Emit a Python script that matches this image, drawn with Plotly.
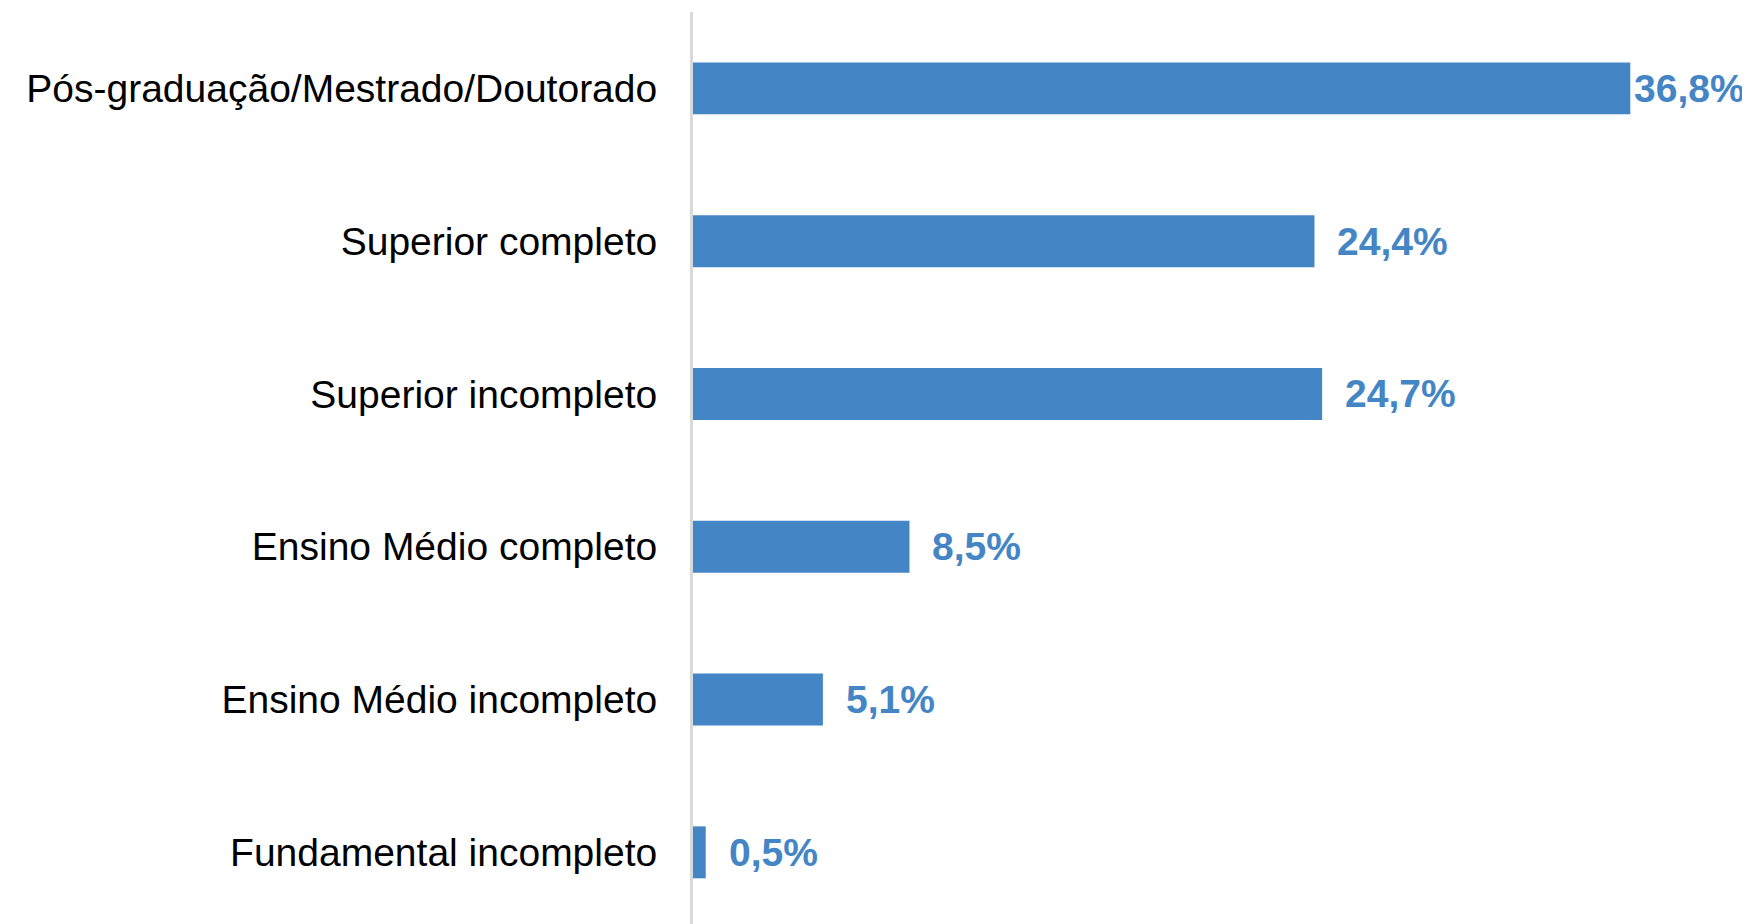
import plotly.graph_objects as go

categories = [
    "Pós-graduação/Mestrado/Doutorado",
    "Superior completo",
    "Superior incompleto",
    "Ensino Médio completo",
    "Ensino Médio incompleto",
    "Fundamental incompleto",
]
values = [36.8, 24.4, 24.7, 8.5, 5.1, 0.5]
labels = ["36,8%", "24,4%", "24,7%", "8,5%", "5,1%", "0,5%"]

BAR_COLOR = "#4485C5"
# page body has an 8px default margin
W, H = 1742, 916
LEFT = 685
XMAX = 41.5

fig = go.Figure()
fig.add_trace(go.Bar(
    x=values, y=categories, orientation="h",
    marker=dict(color=BAR_COLOR, line=dict(width=0)),
    width=0.34, hoverinfo="skip",
))

px_per_unit = (W - LEFT) / XMAX
label_w = 122
for v, lab, cat in zip(values, labels, categories):
    room = (XMAX - v) * px_per_unit - label_w
    shift = max(3, min(22, room))
    fig.add_annotation(
        x=v, y=cat, text="<b>" + lab + "</b>", showarrow=False,
        xanchor="left", yanchor="middle", xshift=shift, borderpad=0,
        font=dict(family="Liberation Sans, Arial", size=39, color=BAR_COLOR),
    )

fig.update_layout(
    width=W, height=H,
    margin=dict(l=LEFT, r=0, t=4, b=0),
    plot_bgcolor="white", paper_bgcolor="white",
    showlegend=False,
    bargap=0.66,
    xaxis=dict(range=[0, XMAX], visible=False, fixedrange=True),
    yaxis=dict(
        range=[5.469, -0.5], showline=True, linecolor="#D9D9D9", linewidth=3,
        showgrid=False, zeroline=False, ticks="", ticklabelstandoff=25,
        tickfont=dict(family="Liberation Sans, Arial", size=39, color="black"),
    ),
)

fig.write_html("out.html")
